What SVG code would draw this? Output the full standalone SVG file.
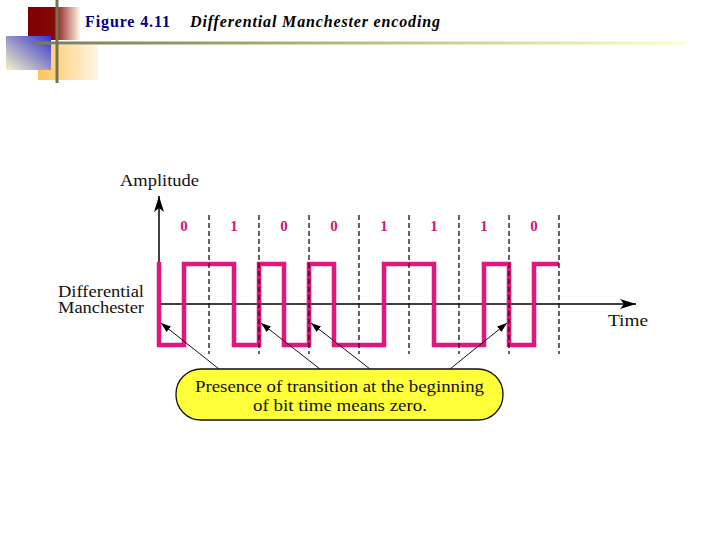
<svg xmlns="http://www.w3.org/2000/svg" width="720" height="540" viewBox="0 0 720 540">
<defs>
<linearGradient id="gRed" x1="0" y1="0" x2="1" y2="0">
<stop offset="0" stop-color="#7e0000"/><stop offset="0.5" stop-color="#840808"/><stop offset="1" stop-color="#fff8e6"/>
</linearGradient>
<linearGradient id="gBlue" x1="1" y1="0" x2="0" y2="1">
<stop offset="0" stop-color="#3434cc"/><stop offset="1" stop-color="#f6f2c8"/>
</linearGradient>
<linearGradient id="gOrange" x1="0" y1="0" x2="1" y2="0">
<stop offset="0" stop-color="#ffc55a"/><stop offset="1" stop-color="#fff6e4"/>
</linearGradient>
<linearGradient id="gLine" x1="0" y1="0" x2="1" y2="0">
<stop offset="0" stop-color="#7a7a4c"/><stop offset="0.6" stop-color="#c8c890"/><stop offset="1" stop-color="#ffffc8"/>
</linearGradient>
<marker id="ah" viewBox="0 0 10 10" refX="10" refY="5" markerWidth="10" markerHeight="10" markerUnits="userSpaceOnUse" orient="auto">
<path d="M0,1.5 L10,5 L0,8.5 z" fill="#000"/>
</marker>
<marker id="axh" viewBox="0 0 16 10" refX="16" refY="5" markerWidth="16" markerHeight="10" markerUnits="userSpaceOnUse" orient="auto">
<path d="M0,0 L16,5 L0,10 L4,5 z" fill="#000"/>
</marker>
<style>
.lbl{font-family:"Liberation Serif","Times New Roman",serif;font-size:16px;fill:#111}
.bit{font-family:"Liberation Serif","Times New Roman",serif;font-size:15px;font-weight:bold;fill:#d01878;text-anchor:middle}
.dash{stroke:#111;stroke-width:1.3;stroke-dasharray:5,3;fill:none}
.arr{stroke:#111;stroke-width:1;fill:none;marker-end:url(#ah)}
</style>
</defs>
<g id="header">
<rect x="28" y="7" width="52" height="33" fill="url(#gRed)"/>
<rect x="38" y="45" width="60" height="35" fill="url(#gOrange)"/>
<rect x="6" y="36" width="45" height="34" fill="url(#gBlue)"/>
<rect x="33" y="41.5" width="652" height="3" fill="url(#gLine)"/>
<rect x="55.5" y="0" width="3" height="83" fill="#74744a"/>
<text x="85" y="27" font-family="'Liberation Serif',serif" font-size="16" font-weight="bold" fill="#000088" textLength="85">Figure 4.11</text>
<text x="190" y="27" font-family="'Liberation Serif',serif" font-size="16" font-weight="bold" font-style="italic" fill="#000" textLength="250">Differential Manchester encoding</text>
</g>
<g id="axes">
<line x1="159" y1="262" x2="159" y2="196" stroke="#000" stroke-width="1.5" marker-end="url(#axh)"/>
<line x1="159" y1="304" x2="636" y2="304" stroke="#000" stroke-width="1.5" marker-end="url(#axh)"/>
<text class="lbl" x="120" y="186" textLength="79" lengthAdjust="spacingAndGlyphs">Amplitude</text>
<text class="lbl" x="608" y="326" textLength="40" lengthAdjust="spacingAndGlyphs">Time</text>
<text class="lbl" x="58" y="297" textLength="86" lengthAdjust="spacingAndGlyphs">Differential</text>
<text class="lbl" x="58" y="313" textLength="86" lengthAdjust="spacingAndGlyphs">Manchester</text>
</g>
<g id="signal">
<path d="M159,262 V345 H184 V264 H234 V345 H259 V264 H284 V345 H309 V264 H334 V345 H384 V264 H434 V345 H484 V264 H509 V345 H534 V264 H559" fill="none" stroke="#e0187e" stroke-width="4.5" stroke-linejoin="miter"/>
</g>
<g id="bits">
<text class="bit" x="184" y="231">0</text>
<text class="bit" x="234" y="231">1</text>
<text class="bit" x="284" y="231">0</text>
<text class="bit" x="334" y="231">0</text>
<text class="bit" x="384" y="231">1</text>
<text class="bit" x="434" y="231">1</text>
<text class="bit" x="484" y="231">1</text>
<text class="bit" x="534" y="231">0</text>
</g>
<g id="bit-boundaries">
<line class="dash" x1="209" y1="215" x2="209" y2="354"/>
<line class="dash" x1="259" y1="215" x2="259" y2="354"/>
<line class="dash" x1="309" y1="215" x2="309" y2="354"/>
<line class="dash" x1="359" y1="215" x2="359" y2="354"/>
<line class="dash" x1="409" y1="215" x2="409" y2="354"/>
<line class="dash" x1="459" y1="215" x2="459" y2="354"/>
<line class="dash" x1="509" y1="215" x2="509" y2="354"/>
<line class="dash" x1="559" y1="215" x2="559" y2="354"/>
</g>
<g id="connectors">
<line class="arr" x1="219" y1="369" x2="161" y2="323"/>
<line class="arr" x1="320" y1="369" x2="261" y2="323"/>
<line class="arr" x1="370" y1="369" x2="311" y2="323"/>
<line class="arr" x1="450" y1="369" x2="507" y2="323"/>
</g>
<g id="callout">
<rect x="176" y="369" width="327" height="51" rx="25" ry="25" fill="#ffff3a" stroke="#111" stroke-width="1.3"/>
<text class="lbl" x="195" y="392" textLength="289" lengthAdjust="spacingAndGlyphs">Presence of transition at the beginning</text>
<text class="lbl" x="253" y="411" textLength="174" lengthAdjust="spacingAndGlyphs">of bit time means zero.</text>
</g>
</svg>
